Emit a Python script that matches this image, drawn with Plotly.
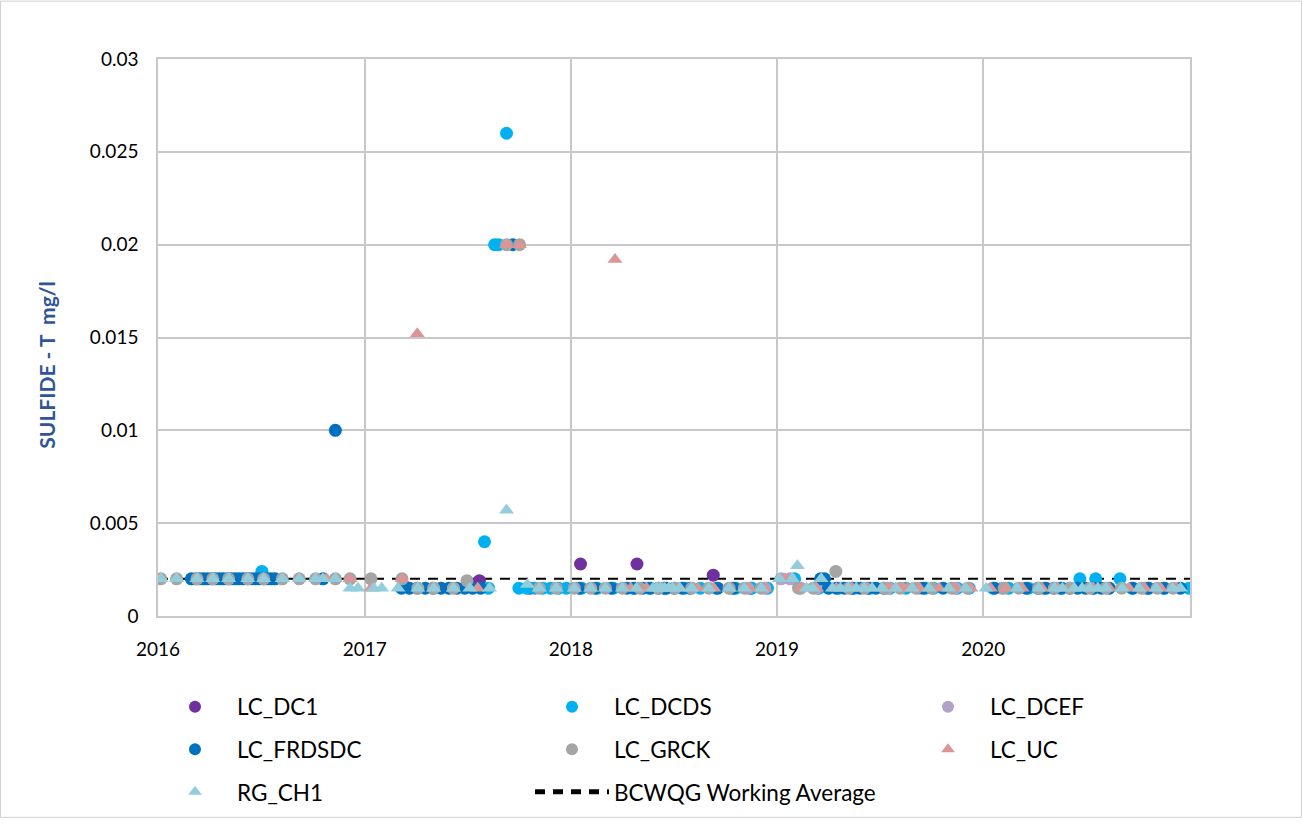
import plotly.graph_objects as go

# ---- sampling data: SULFIDE - T (mg/l) by station ----
dc1_dates = ["2017-07-23", "2017-10-20", "2018-01-18", "2018-04-28", "2018-06-15",
             "2018-09-10", "2018-11-15"]
dc1_vals = [0.0019, 0.0015, 0.0028, 0.0028, 0.0015, 0.0022, 0.0015]

dcds_dates = ["2016-07-03", "2017-08-01", "2017-08-08", "2017-08-19", "2017-08-26", "2017-09-09",
              "2017-10-01", "2017-10-15", "2017-10-29", "2017-11-12", "2017-11-26", "2017-12-10",
              "2017-12-24", "2018-01-20", "2018-02-17", "2018-03-17", "2018-04-21", "2018-05-19",
              "2018-06-16", "2018-07-21", "2018-08-18", "2018-09-15", "2018-10-20", "2018-11-17",
              "2018-12-15", "2019-02-01", "2019-03-16", "2019-04-20", "2019-05-18", "2019-06-15",
              "2019-07-20", "2019-08-17", "2019-09-21", "2019-10-05", "2019-11-16", "2019-12-07",
              "2020-01-18", "2020-02-15", "2020-03-21", "2020-04-18", "2020-05-16", "2020-06-20",
              "2020-07-18", "2020-08-30", "2020-09-20", "2020-10-18", "2020-11-15", "2020-12-30"]
dcds_vals = [0.0024, 0.004, 0.0015, 0.02, 0.02, 0.026,
             0.0015, 0.0015, 0.0015, 0.0015, 0.0015, 0.0015,
             0.0015, 0.0015, 0.0015, 0.0015, 0.0015, 0.0015,
             0.0015, 0.0015, 0.0015, 0.0015, 0.0015, 0.0015,
             0.0015, 0.002, 0.0015, 0.0015, 0.0015, 0.0015,
             0.0015, 0.0015, 0.0015, 0.0015, 0.0015, 0.0015,
             0.0015, 0.0015, 0.0015, 0.0015, 0.0015, 0.002,
             0.002, 0.002, 0.0015, 0.0015, 0.0015, 0.0015]

dcef_dates = ["2018-10-12", "2018-11-10", "2018-12-10", "2019-01-08", "2019-01-24", "2019-02-12",
              "2019-03-12", "2019-05-14", "2019-07-16", "2019-09-10", "2019-11-12", "2020-02-03",
              "2020-04-14", "2020-07-14", "2020-10-13"]
dcef_vals = [0.0015, 0.0015, 0.0015, 0.002, 0.002, 0.0015,
             0.0015, 0.0015, 0.0015, 0.0015, 0.0015, 0.0015,
             0.0015, 0.0015, 0.0015]

frdsdc_dates = ["2016-02-29", "2016-03-08", "2016-03-15", "2016-03-22", "2016-03-29", "2016-04-05",
                "2016-04-12", "2016-04-19", "2016-04-26", "2016-05-03", "2016-05-10", "2016-05-17",
                "2016-05-24", "2016-05-31", "2016-06-07", "2016-06-14", "2016-06-21", "2016-06-28",
                "2016-07-05", "2016-07-12", "2016-07-19", "2016-07-26", "2016-10-19", "2016-11-10",
                "2017-03-07", "2017-03-21", "2017-04-04", "2017-04-18", "2017-05-02", "2017-05-16",
                "2017-05-30", "2017-06-13", "2017-06-27", "2017-07-11", "2017-07-25", "2017-09-20",
                "2018-01-16", "2018-02-13", "2018-03-13", "2018-04-10", "2018-04-24", "2018-05-08",
                "2018-05-22", "2018-06-05", "2018-06-19", "2018-07-03", "2018-07-17", "2018-07-31",
                "2018-09-18", "2018-10-16", "2019-03-19", "2019-03-26", "2019-04-02", "2019-04-16",
                "2019-04-30", "2019-05-14", "2019-05-28", "2019-06-11", "2019-06-25", "2019-07-09",
                "2019-09-17", "2019-10-22", "2020-01-21", "2020-03-17", "2020-04-07", "2020-04-21",
                "2020-05-05", "2020-05-19", "2020-06-02", "2020-06-16", "2020-06-30", "2020-07-14",
                "2020-07-28", "2020-08-11", "2020-09-22", "2020-10-20", "2020-11-17", "2020-12-15"]
frdsdc_vals = [0.002, 0.002, 0.002, 0.002, 0.002, 0.002,
               0.002, 0.002, 0.002, 0.002, 0.002, 0.002,
               0.002, 0.002, 0.002, 0.002, 0.002, 0.002,
               0.002, 0.002, 0.002, 0.002, 0.002, 0.01,
               0.0015, 0.0015, 0.0015, 0.0015, 0.0015, 0.0015,
               0.0015, 0.0015, 0.0015, 0.0015, 0.0015, 0.02,
               0.0015, 0.0015, 0.0015, 0.0015, 0.0015, 0.0015,
               0.0015, 0.0015, 0.0015, 0.0015, 0.0015, 0.0015,
               0.0015, 0.0015, 0.002, 0.002, 0.0015, 0.0015,
               0.0015, 0.0015, 0.0015, 0.0015, 0.0015, 0.0015,
               0.0015, 0.0015, 0.0015, 0.0015, 0.0015, 0.0015,
               0.0015, 0.0015, 0.0015, 0.0015, 0.0015, 0.0015,
               0.0015, 0.0015, 0.0015, 0.0015, 0.0015, 0.0015]

grck_dates = ["2016-01-06", "2016-02-03", "2016-03-10", "2016-04-07", "2016-05-05", "2016-06-08",
              "2016-07-06", "2016-08-08", "2016-09-07", "2016-10-06", "2016-11-10", "2016-12-06",
              "2017-01-12", "2017-03-08", "2017-04-05", "2017-05-03", "2017-06-07", "2017-07-01",
              "2017-09-09", "2017-10-02", "2017-11-06", "2017-12-06", "2018-01-07", "2018-02-05",
              "2018-03-03", "2018-04-02", "2018-05-03", "2018-06-05", "2018-07-04", "2018-08-03",
              "2018-09-02", "2018-10-08", "2018-11-04", "2018-12-04", "2019-02-08", "2019-03-06",
              "2019-04-15", "2019-05-08", "2019-06-05", "2019-07-10", "2019-08-07", "2019-09-04",
              "2019-10-02", "2019-11-06", "2019-12-04", "2020-02-07", "2020-03-04", "2020-04-08",
              "2020-05-06", "2020-06-03", "2020-07-08", "2020-08-05", "2020-09-02", "2020-10-07",
              "2020-11-04", "2020-12-02"]
grck_vals = [0.002, 0.002, 0.002, 0.002, 0.002, 0.002,
             0.002, 0.002, 0.002, 0.002, 0.002, 0.002,
             0.002, 0.002, 0.0015, 0.0015, 0.0015, 0.0019,
             0.02, 0.02, 0.0015, 0.0015, 0.0015, 0.0015,
             0.0015, 0.0015, 0.0015, 0.0015, 0.0015, 0.0015,
             0.0015, 0.0015, 0.0015, 0.0015, 0.0015, 0.0015,
             0.0024, 0.0015, 0.0015, 0.0015, 0.0015, 0.0015,
             0.0015, 0.0015, 0.0015, 0.0015, 0.0015, 0.0015,
             0.0015, 0.0015, 0.0015, 0.0015, 0.0015, 0.0015,
             0.0015, 0.0015]

uc_dates = ["2016-01-06", "2016-02-03", "2016-03-10", "2016-04-07", "2016-05-05", "2016-06-08",
            "2016-07-06", "2016-08-08", "2016-09-07", "2016-10-06", "2016-10-25", "2016-12-06",
            "2017-01-12", "2017-03-08", "2017-04-04", "2017-05-03", "2017-06-07", "2017-07-20",
            "2017-09-09", "2017-10-02", "2017-11-06", "2017-12-06", "2018-01-07", "2018-02-05",
            "2018-03-20", "2018-04-17", "2018-05-15", "2018-06-12", "2018-07-10", "2018-08-14",
            "2018-09-11", "2018-10-09", "2018-11-13", "2018-12-11", "2019-01-15", "2019-02-12",
            "2019-03-12", "2019-04-16", "2019-05-14", "2019-06-11", "2019-07-16", "2019-07-23",
            "2019-07-30", "2019-08-06", "2019-08-13", "2019-08-20", "2019-08-27", "2019-09-10",
            "2019-10-15", "2019-11-12", "2019-12-10", "2020-01-14", "2020-02-11", "2020-03-10",
            "2020-04-14", "2020-05-12", "2020-06-09", "2020-07-14", "2020-08-11", "2020-09-15",
            "2020-10-13", "2020-11-10", "2020-12-08"]
uc_vals = [0.002, 0.002, 0.002, 0.002, 0.002, 0.002,
           0.002, 0.002, 0.002, 0.002, 0.002, 0.002,
           0.0015, 0.002, 0.0152, 0.0015, 0.0015, 0.0015,
           0.02, 0.02, 0.0015, 0.0015, 0.0015, 0.0015,
           0.0192, 0.0015, 0.0015, 0.0015, 0.0015, 0.0015,
           0.0015, 0.0015, 0.0015, 0.0015, 0.002, 0.0015,
           0.0015, 0.0015, 0.0015, 0.0015, 0.0015, 0.0015,
           0.0015, 0.0015, 0.0015, 0.0015, 0.0015, 0.0015,
           0.0015, 0.0015, 0.0015, 0.0015, 0.0015, 0.0015,
           0.0015, 0.0015, 0.0015, 0.0015, 0.0015, 0.0015,
           0.0015, 0.0015, 0.0015]

rg_dates = ["2016-01-06", "2016-02-03", "2016-03-10", "2016-04-07", "2016-05-05", "2016-06-08",
            "2016-07-06", "2016-08-08", "2016-09-07", "2016-10-06", "2016-10-19", "2016-11-10",
            "2016-12-06", "2016-12-20", "2017-01-17", "2017-01-31", "2017-03-01", "2017-04-05",
            "2017-05-03", "2017-06-07", "2017-07-06", "2017-08-10", "2017-09-09", "2017-10-16",
            "2017-11-06", "2017-12-06", "2018-01-07", "2018-02-05", "2018-03-03", "2018-04-02",
            "2018-04-27", "2018-05-26", "2018-06-02", "2018-06-09", "2018-06-16", "2018-06-23",
            "2018-06-30", "2018-07-13", "2018-08-03", "2018-09-02", "2018-10-08", "2018-11-04",
            "2018-12-04", "2019-01-05", "2019-01-28", "2019-02-06", "2019-02-22", "2019-03-05",
            "2019-03-20", "2019-04-09", "2019-04-23", "2019-05-07", "2019-05-21", "2019-06-04",
            "2019-06-18", "2019-07-06", "2019-07-30", "2019-08-28", "2019-09-27", "2019-11-01",
            "2019-12-01", "2020-01-06", "2020-03-01", "2020-04-08", "2020-05-06", "2020-05-20",
            "2020-06-10", "2020-06-24", "2020-07-08", "2020-07-22", "2020-08-05", "2020-09-03",
            "2020-10-03", "2020-11-02", "2020-12-01", "2020-12-15"]
rg_vals = [0.002, 0.002, 0.002, 0.002, 0.002, 0.002,
           0.002, 0.002, 0.002, 0.002, 0.002, 0.002,
           0.0015, 0.0015, 0.0015, 0.0015, 0.0015, 0.0015,
           0.0015, 0.0015, 0.0015, 0.0015, 0.0057, 0.0017,
           0.0015, 0.0015, 0.0015, 0.0015, 0.0015, 0.0015,
           0.0015, 0.0015, 0.0015, 0.0015, 0.0015, 0.0015,
           0.0015, 0.0015, 0.0015, 0.0015, 0.0015, 0.0015,
           0.0015, 0.002, 0.002, 0.0027, 0.0015, 0.0015,
           0.002, 0.0015, 0.0015, 0.0015, 0.0015, 0.0015,
           0.0015, 0.0015, 0.0015, 0.0015, 0.0015, 0.0015,
           0.0015, 0.0015, 0.0015, 0.0015, 0.0015, 0.0015,
           0.0015, 0.0015, 0.0015, 0.0015, 0.0015, 0.0015,
           0.0015, 0.0015, 0.0015, 0.0015]

guideline_dates = ["2016-01-01", "2021-01-01"]
guideline_vals = [0.002, 0.002]

year_ticks = ["2016-01-01", "2017-01-01", "2018-01-01", "2019-01-01", "2020-01-01"]
year_labels = ["2016", "2017", "2018", "2019", "2020"]
y_ticks = [0, 0.005, 0.01, 0.015, 0.02, 0.025, 0.03]
y_labels = ["0", "0.005", "0.01", "0.015", "0.02", "0.025", "0.03"]

# ---- page geometry (pixels) ----
W, H = 1302, 826
L, R, T, B = 158, 112, 59, 204
PW, PH = W - L - R, H - T - B


def px_x(p):
    return (p - L) / PW


def px_y(p):
    return (H - B - p) / PH


FONT = "Lato, 'Open Sans', sans-serif"

series = [
    ("LC_DC1", dc1_dates, dc1_vals, "circle", "#7030A0"),
    ("LC_DCDS", dcds_dates, dcds_vals, "circle", "#00B0F0"),
    ("LC_DCEF", dcef_dates, dcef_vals, "circle", "#B3A2C7"),
    ("LC_FRDSDC", frdsdc_dates, frdsdc_vals, "circle", "#0070C0"),
    ("LC_GRCK", grck_dates, grck_vals, "circle", "#A5A5A5"),
    ("LC_UC", uc_dates, uc_vals, "triangle-up", "#DA9694"),
    ("RG_CH1", rg_dates, rg_vals, "triangle-up", "#92CDDC"),
]

# legend slot for each entry: (legend id, icon centre x, row y)
slots = {
    "LC_DC1": ("legend", 195, 714),
    "LC_DCDS": ("legend2", 572, 714),
    "LC_DCEF": ("legend3", 948, 714),
    "LC_FRDSDC": ("legend4", 195, 757),
    "LC_GRCK": ("legend5", 572, 757),
    "LC_UC": ("legend6", 948, 757),
    "RG_CH1": ("legend7", 195, 800),
    "BCWQG Working Average": ("legend8", 572, 800),
}

fig = go.Figure()

# guideline first so the station markers sit above it
fig.add_trace(go.Scatter(
    x=guideline_dates, y=guideline_vals, mode="lines",
    name="BCWQG Working Average",
    line=dict(color="black", width=2, dash="10px,8px"),
    legend=slots["BCWQG Working Average"][0],
))

for name, xs, ys, sym, col in series:
    fig.add_trace(go.Scatter(
        x=xs, y=ys, mode="markers", name=name,
        marker=dict(symbol=sym, size=13, color=col, line=dict(width=0)),
        legend=slots[name][0],
    ))

ITEMW = 74
layout_legends = {}
for name, (lid, cx, cy) in slots.items():
    left = cx - (ITEMW + 10) / 2
    layout_legends[lid] = dict(
        x=px_x(left), xanchor="left", y=px_y(cy), yanchor="middle",
        bgcolor="rgba(0,0,0,0)", borderwidth=0,
        font=dict(family=FONT, size=22.5, color="#000000"),
        itemwidth=ITEMW, itemsizing="constant",
    )

fig.update_layout(
    width=W, height=H, autosize=False,
    margin=dict(l=L, r=R, t=T, b=B, pad=0),
    paper_bgcolor="white", plot_bgcolor="white",
    font=dict(family=FONT, size=19, color="#000000"),
    showlegend=True,
    **layout_legends,
    xaxis=dict(
        type="date", range=["2016-01-01", "2021-01-01"],
        tickvals=year_ticks, ticktext=year_labels,
        showgrid=True, gridcolor="#C8C8C8", gridwidth=1.5,
        showline=True, linecolor="#C8C8C8", linewidth=1.5, mirror=True,
        ticks="", zeroline=False, ticklabelstandoff=15,
        tickfont=dict(family=FONT, size=19, color="#000000"),
    ),
    yaxis=dict(
        range=[0, 0.03], tickvals=y_ticks, ticktext=y_labels,
        showgrid=True, gridcolor="#C8C8C8", gridwidth=1.5,
        showline=True, linecolor="#C8C8C8", linewidth=1.5, mirror=True,
        ticks="", zeroline=False, ticklabelstandoff=14,
        tickfont=dict(family=FONT, size=19, color="#000000"),
    ),
    annotations=[dict(
        text="SULFIDE - T\u00a0 mg/l", textangle=-90,
        xref="paper", yref="paper", x=px_x(47), y=px_y(369),
        xanchor="center", yanchor="middle", showarrow=False,
        font=dict(family=FONT, size=21, color="#2F5597", weight="bold"),
    )],
    shapes=[dict(
        type="rect", xref="paper", yref="paper",
        x0=px_x(0.5), x1=px_x(W - 0.5), y0=px_y(0.5), y1=px_y(H - 0.5),
        line=dict(color="#D0D0D0", width=1), fillcolor="rgba(0,0,0,0)", layer="below",
    )],
)

fig.write_html("out.html")
